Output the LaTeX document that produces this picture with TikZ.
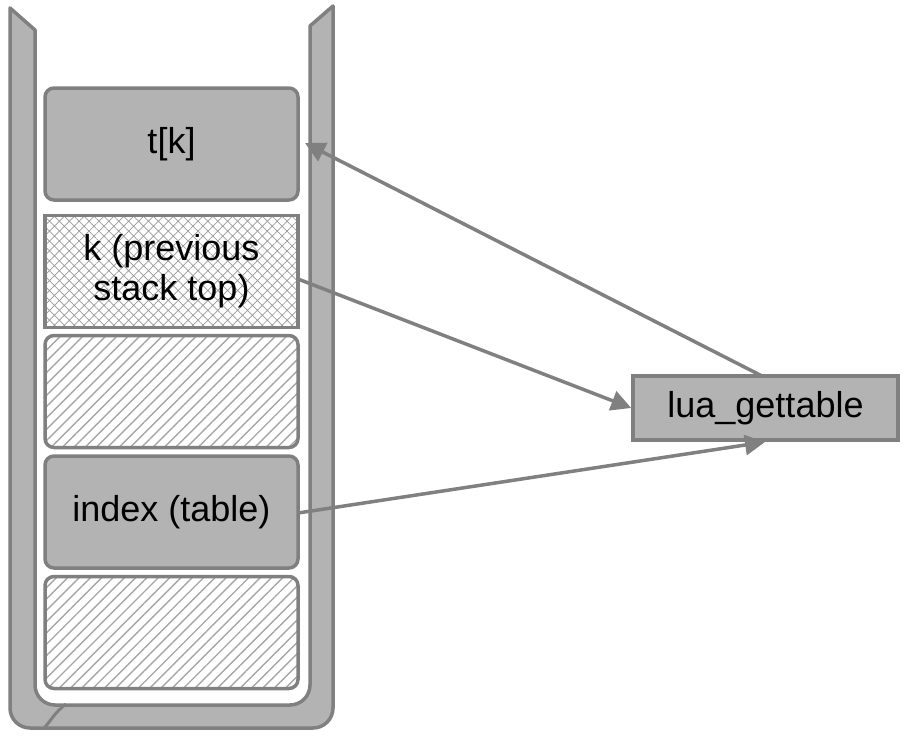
\documentclass[tikz,border=0pt]{standalone}
\usepackage{fontspec}
\setmainfont{Liberation Sans}
\usetikzlibrary{patterns.meta,arrows.meta}
\definecolor{edge}{HTML}{808080}
\definecolor{boxfill}{HTML}{B3B3B3}
\tikzset{
  cell/.style={draw=edge, line width=3.5pt, minimum width=253pt, minimum height=112pt, rounded corners=9pt, font=\fontsize{36}{40}\selectfont, align=center, inner sep=0pt},
  solidcell/.style={cell, fill=boxfill},
  hatchcell/.style={cell, pattern={Lines[angle=45,distance=8pt,line width=1.4pt]}, pattern color=edge!70},
  crosscell/.style={cell, rounded corners=0pt, pattern={Hatch[angle=45,distance=7pt,line width=0.7pt]}, pattern color=edge!80},
  conn/.style={draw=edge, line width=3.5pt, -{Triangle[length=20pt,width=20pt]}},
}
\begin{document}
\begin{tikzpicture}[x=1pt,y=-1pt]
\useasboundingbox (0,0) rectangle (906,736);
% container
\draw[edge, fill=boxfill, line width=3.5pt, line join=round]
  (10,8) -- (35,30) [rounded corners=20pt] -- (35,705) -- (310,705) [sharp corners] -- (310,26) -- (333,6)
  [rounded corners=20pt] -- (333,728) -- (10,728) [sharp corners] -- cycle;
\draw[edge, line width=3pt] (66,704) .. controls (55,712) and (50,722) .. (44,728);
% cells
\node[solidcell] (tk) at (171.5,144) {t[k]};
\node[crosscell] (k) at (171.5,271.5) {k (previous\\stack top)};
\node[hatchcell] (h1) at (171.5,391.5) {};
\node[solidcell] (idx) at (171.5,512) {index (table)};
\node[hatchcell] (h2) at (171.5,632.5) {};
% function box
\node[draw=edge, fill=boxfill, line width=3.5pt, minimum width=265pt, minimum height=64pt, font=\fontsize{36}{40}\selectfont, inner sep=0pt] (lua) at (765.5,408) {lua\_gettable};
% connectors
\coordinate (luatop) at (762,376);
\coordinate (luabot) at (765,442);
\coordinate (tkend) at (305,143);
\coordinate (kstart) at (298,279);
\coordinate (idxstart) at (298,513);
\draw[conn] (luatop) -- (tkend);
\draw[conn] (kstart) -- (lua.west);
\draw[conn] (idxstart) -- (luabot);
\end{tikzpicture}
\end{document}
